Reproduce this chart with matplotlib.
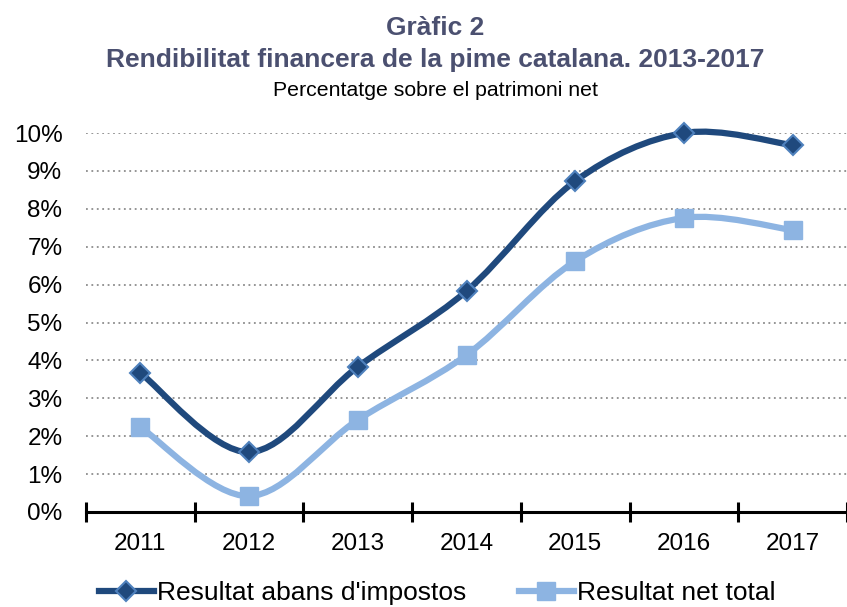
import matplotlib
matplotlib.use('Agg')
import matplotlib.pyplot as plt
from matplotlib.path import Path
from matplotlib.patches import PathPatch
from matplotlib.lines import Line2D
from matplotlib.ticker import FixedLocator, FuncFormatter

plt.rcParams['font.family'] = ['Liberation Sans', 'DejaVu Sans']

# Data (percent over net equity)
years = ['2011', '2012', '2013', '2014', '2015', '2016', '2017']
abans_impostos = [3.67, 1.58, 3.83, 5.83, 8.73, 10.0, 9.68]
net_total = [2.24, 0.42, 2.43, 4.14, 6.62, 7.76, 7.44]

DARK = '#1f497d'
DARK_EDGE = '#4f81bd'
LIGHT = '#8db4e2'
TITLE_COLOR = '#4b5070'


def smooth_path(xs, ys):
    """Excel-like smoothed line: cubic Bezier segments (Catmull-Rom control points)."""
    pts = list(zip(xs, ys))
    verts = [pts[0]]
    codes = [Path.MOVETO]
    n = len(pts)
    for i in range(n - 1):
        p0 = pts[i - 1] if i > 0 else pts[i]
        p1 = pts[i]
        p2 = pts[i + 1]
        p3 = pts[i + 2] if i + 2 < n else pts[i + 1]
        c1 = (p1[0] + (p2[0] - p0[0]) / 6, p1[1] + (p2[1] - p0[1]) / 6)
        c2 = (p2[0] - (p3[0] - p1[0]) / 6, p2[1] - (p3[1] - p1[1]) / 6)
        verts += [c1, c2, p2]
        codes += [Path.CURVE4] * 3
    return Path(verts, codes)


fig = plt.figure(figsize=(8.47, 6.07), dpi=100)
ax = fig.add_axes([86 / 847, 1 - 512 / 607, (847 - 86) / 847, (512 - 133) / 607])

x = list(range(len(years)))

# Light series (drawn first, below)
ax.add_patch(PathPatch(smooth_path(x, net_total), facecolor='none', edgecolor=LIGHT,
                       linewidth=4.5, capstyle='round', joinstyle='round', zorder=3,
                       clip_on=False))
ax.plot(x, net_total, linestyle='none', marker='s', markersize=13,
        markerfacecolor=LIGHT, markeredgecolor=LIGHT, zorder=4, clip_on=False)

# Dark series
ax.add_patch(PathPatch(smooth_path(x, abans_impostos), facecolor='none', edgecolor=DARK,
                       linewidth=4.5, capstyle='round', joinstyle='round', zorder=5,
                       clip_on=False))
ax.plot(x, abans_impostos, linestyle='none', marker='D', markersize=10,
        markerfacecolor=DARK, markeredgecolor=DARK_EDGE, markeredgewidth=1.5, zorder=6,
        clip_on=False)

ax.set_xlim(-0.5, len(years) - 0.5)
ax.set_ylim(0, 10)

# Axes styling
for side in ['top', 'right', 'left']:
    ax.spines[side].set_visible(False)
ax.spines['bottom'].set_linewidth(2.2)
ax.spines['bottom'].set_color('black')

ax.set_yticks(range(0, 11))
ax.yaxis.set_major_formatter(FuncFormatter(lambda v, p: f'{int(v)}%'))
ax.tick_params(axis='y', length=0, labelsize=17.5, pad=17)

ax.xaxis.set_major_locator(FixedLocator([i - 0.5 for i in range(len(years) + 1)]))
ax.xaxis.set_major_formatter(FuncFormatter(lambda v, p: ''))
ax.xaxis.set_minor_locator(FixedLocator(x))
ax.set_xticklabels(years, minor=True)
ax.tick_params(axis='x', which='major', direction='inout', length=14, width=2.2, color='black')
ax.tick_params(axis='x', which='minor', length=0, labelsize=17.5, pad=15)

ax.yaxis.grid(True, linestyle=(0, (1, 2)), color='#8c8c8c', linewidth=1.3)
ax.set_axisbelow(True)

# Titles
cx = 435 / 847
fig.text(cx, 1 - 28 / 607, 'Gràfic 2', ha='center', va='center',
         fontsize=19, fontweight='bold', color=TITLE_COLOR)
fig.text(cx, 1 - 60 / 607, 'Rendibilitat financera de la pime catalana. 2013-2017',
         ha='center', va='center', fontsize=19, fontweight='bold', color=TITLE_COLOR)
fig.text(cx, 1 - 91 / 607, 'Percentatge sobre el patrimoni net', ha='center', va='center',
         fontsize=15.3, color='black')

# Legend
handles = [
    Line2D([0], [0], color=DARK, linewidth=4.5, marker='D', markersize=10,
           markerfacecolor=DARK, markeredgecolor=DARK_EDGE, markeredgewidth=1.5,
           label="Resultat abans d'impostos"),
    Line2D([0], [0], color=LIGHT, linewidth=4.5, marker='s', markersize=13,
           markerfacecolor=LIGHT, markeredgecolor=LIGHT, label='Resultat net total'),
]
fig.legend(handles=handles, loc='center', bbox_to_anchor=(437 / 847, 1 - 593 / 607), ncol=2,
           frameon=False, fontsize=19, handlelength=2.1, handletextpad=0.1,
           columnspacing=2.0, borderaxespad=0, borderpad=0)

fig.savefig('out.png', dpi=100)
